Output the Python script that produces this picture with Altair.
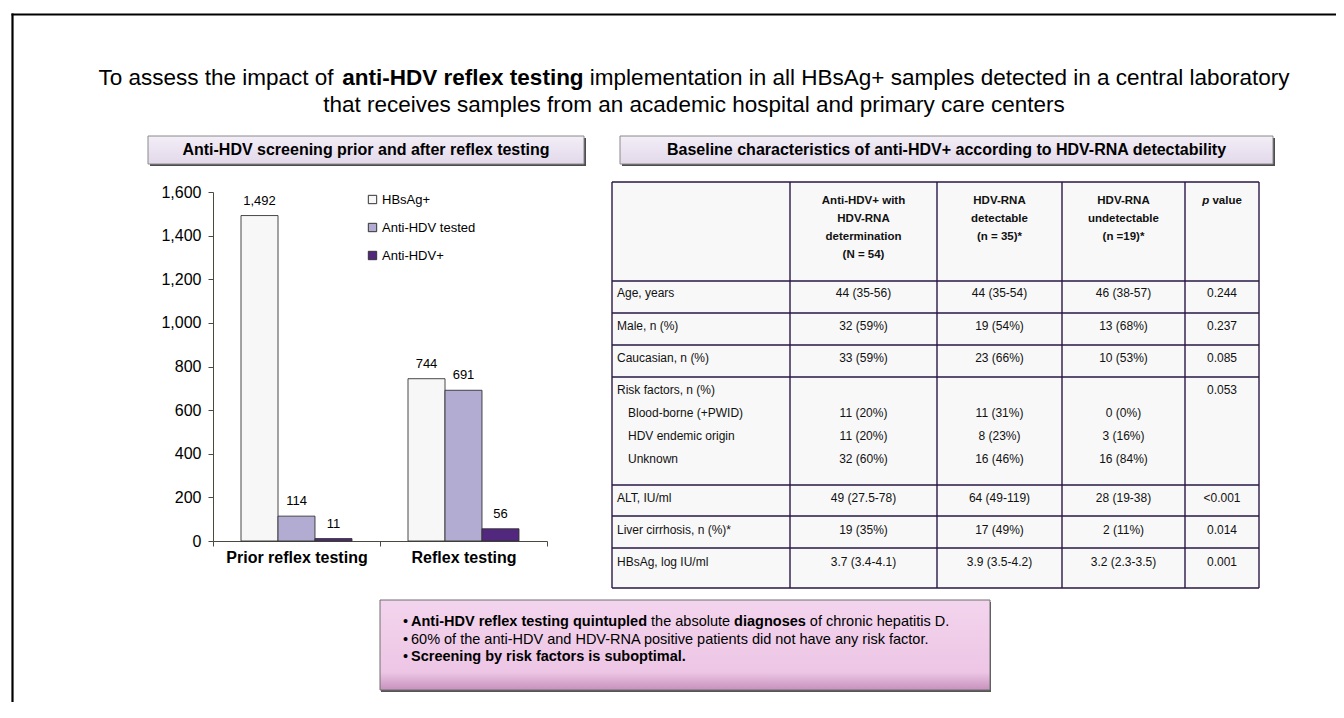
import altair as alt
import pandas as pd

FONT = "Liberation Sans, Arial, Helvetica, sans-serif"

# ---------------- data ----------------
CATEGORIES = ["Prior reflex testing", "Reflex testing"]
SERIES = ["HBsAg+", "Anti-HDV tested", "Anti-HDV+"]
PRIOR_VALUES = [1492, 114, 11]
REFLEX_VALUES = [744, 691, 56]
Y_TICKS = [0, 200, 400, 600, 800, 1000, 1200, 1400, 1600]

TITLE_LINE1 = ["To assess the impact of ", "anti-HDV reflex testing",
               " implementation in all HBsAg+ samples detected in a central laboratory"]
TITLE_LINE1_BOLD = [False, True, False]
TITLE_LINE2 = "that receives samples from an academic hospital and primary care centers"
LEFT_HEADER = "Anti-HDV screening prior and after reflex testing"
RIGHT_HEADER = "Baseline characteristics of anti-HDV+ according to HDV-RNA detectability"

COL_HEADERS = [
    ["Anti-HDV+ with", "HDV-RNA", "determination", "(N = 54)"],
    ["HDV-RNA", "detectable", "(n = 35)*"],
    ["HDV-RNA", "undetectable", "(n =19)*"],
]
P_HEADER = ["p", " value"]
ROW_LABELS = ["Age, years", "Male, n (%)", "Caucasian, n (%)", "Risk factors, n (%)",
              "Blood-borne (+PWID)", "HDV endemic origin", "Unknown", "ALT, IU/ml",
              "Liver cirrhosis, n (%)*", "HBsAg, log IU/ml"]
ROW_INDENT = [False, False, False, False, True, True, True, False, False, False]
COL_ALL = ["44 (35-56)", "32 (59%)", "33 (59%)", "", "11 (20%)", "11 (20%)", "32 (60%)",
           "49 (27.5-78)", "19 (35%)", "3.7 (3.4-4.1)"]
COL_DET = ["44 (35-54)", "19 (54%)", "23 (66%)", "", "11 (31%)", "8 (23%)", "16 (46%)",
           "64 (49-119)", "17 (49%)", "3.9 (3.5-4.2)"]
COL_UNDET = ["46 (38-57)", "13 (68%)", "10 (53%)", "", "0 (0%)", "3 (16%)", "16 (84%)",
             "28 (19-38)", "2 (11%)", "3.2 (2.3-3.5)"]
COL_P = ["0.244", "0.237", "0.085", "0.053", "", "", "", "<0.001", "0.014", "0.001"]

CONCLUSIONS = [
    [("Anti-HDV reflex testing quintupled", True), (" the absolute ", False),
     ("diagnoses", True), (" of chronic hepatitis D.", False)],
    [("60% of the anti-HDV and HDV-RNA positive patients did not have any risk factor.", False)],
    [("Screening by risk factors is suboptimal.", True)],
]

# ---------------- layout (page pixels) ----------------
W, H = 1328, 694
M = 8


def px(v):
    return v - M


TITLE_CX = 694
TITLE_Y = [78, 105]
TITLE_SIZE = 22.5

HEADER_BOXES = [(148, 584, 136, 164), (620, 1273, 136, 164)]
HEADER_SIZE = 16

AXIS_X0, AXIS_X1 = 213, 547
AXIS_Y0, AXIS_Y1 = 541, 192
LEGEND_X, LEGEND_Y = 366, 193

TABLE_X = [612, 790, 937, 1062, 1185, 1259]
TABLE_H_LINES = [182, 281, 313, 345, 377, 485, 516, 548, 588]
HEAD_Y0, HEAD_DY = 201, 18
ROW_Y = [293, 326, 358, 390, 413, 436, 459, 498, 530, 562]
TABLE_SIZE = 12
TABLE_HEAD_SIZE = 11.5
LABEL_X, INDENT_X = 617, 628

BOX = (380, 990, 600, 690)
BOX_TEXT_Y = [622, 640, 657]
BULLET_X, BOX_TEXT_X = 403, 411
BOX_SIZE = 14.5

COLORS = ["#f7f7f7", "#b2acd3", "#52287f"]
AX = "#4a4a40"
LINE = "#2a1745"

# ---------------- text metrics (Arial / Liberation Sans) ----------------
REG = {' ': 278, '!': 278, '%': 889, "'": 191, '(': 333, ')': 333, '*': 389, '+': 584, ',': 278,
       '-': 333, '.': 278, '/': 278, ':': 278, ';': 278, '<': 584, '=': 584, '>': 584, '•': 350}
BOLD = {' ': 278, '!': 333, '%': 889, '(': 333, ')': 333, '*': 389, '+': 584, ',': 278,
        '-': 333, '.': 278, '<': 584, '=': 584, '•': 350}
for d in "0123456789":
    REG[d] = 556
    BOLD[d] = 556
for c, w in zip("ABCDEFGHIJKLMNOPQRSTUVWXYZ",
                [667, 667, 722, 722, 667, 611, 778, 722, 278, 500, 667, 556, 833, 722, 778, 667, 778,
                 722, 667, 611, 722, 667, 944, 667, 667, 611]):
    REG[c] = w
for c, w in zip("abcdefghijklmnopqrstuvwxyz",
                [556, 556, 500, 556, 556, 278, 556, 556, 222, 222, 500, 222, 833, 556, 556, 556, 556,
                 333, 500, 278, 556, 500, 722, 500, 500, 500]):
    REG[c] = w
for c, w in zip("ABCDEFGHIJKLMNOPQRSTUVWXYZ",
                [722, 722, 722, 722, 667, 611, 778, 722, 278, 556, 722, 611, 833, 722, 778, 667, 778,
                 722, 667, 611, 722, 667, 944, 667, 667, 611]):
    BOLD[c] = w
for c, w in zip("abcdefghijklmnopqrstuvwxyz",
                [556, 611, 556, 611, 556, 333, 611, 611, 278, 278, 556, 278, 889, 611, 611, 611, 611,
                 389, 556, 333, 611, 556, 778, 556, 556, 500]):
    BOLD[c] = w


def tw(s, size, bold=False):
    t = BOLD if bold else REG
    return sum(t.get(c, 556) for c in s) * size / 1000.0


texts = []


def add(x, y, s, size, bold=False, italic=False, align="left", color="#000000"):
    if s.strip() == "":
        return
    texts.append(dict(x=px(x), y=px(y), text=s, size=size,
                      weight="bold" if bold else "normal",
                      style="italic" if italic else "normal", align=align, color=color))


def add_runs(x0, y, runs, size, color="#000000"):
    x = x0
    for run in runs:
        s, b = run[0], run[1]
        it = run[2] if len(run) > 2 else False
        lead = len(s) - len(s.lstrip())
        add(x + tw(s[:lead], size, b), y, s.strip(), size, b, it, "left", color)
        x += tw(s, size, b)


def add_centered_runs(cx, y, runs, size, color="#000000"):
    total = sum(tw(r[0], size, r[1]) for r in runs)
    add_runs(cx - total / 2.0, y, runs, size, color)


# title
add_centered_runs(TITLE_CX, TITLE_Y[0], list(zip(TITLE_LINE1, TITLE_LINE1_BOLD)), TITLE_SIZE)
add(TITLE_CX, TITLE_Y[1], TITLE_LINE2, TITLE_SIZE, align="center")

# header boxes text
for (x0, x1, y0, y1), s in zip(HEADER_BOXES, [LEFT_HEADER, RIGHT_HEADER]):
    add((x0 + x1) / 2.0, (y0 + y1) / 2.0, s, HEADER_SIZE, bold=True, align="center")

# table header
centers = [(TABLE_X[i] + TABLE_X[i + 1]) / 2.0 for i in range(5)]
for i, lines in enumerate(COL_HEADERS):
    for k, s in enumerate(lines):
        add(centers[i + 1], HEAD_Y0 + k * HEAD_DY, s, TABLE_HEAD_SIZE, bold=True, align="center",
            color="#111111")
add_centered_runs(centers[4], HEAD_Y0, [(P_HEADER[0], True, True), (P_HEADER[1], True)],
                  TABLE_HEAD_SIZE, color="#111111")

# table body
for r, lab in enumerate(ROW_LABELS):
    add(INDENT_X if ROW_INDENT[r] else LABEL_X, ROW_Y[r], lab, TABLE_SIZE, color="#111111")
    for c, col in enumerate([COL_ALL, COL_DET, COL_UNDET, COL_P]):
        add(centers[c + 1], ROW_Y[r], col[r], TABLE_SIZE, align="center", color="#111111")

# conclusions
for y, runs in zip(BOX_TEXT_Y, CONCLUSIONS):
    add(BULLET_X, y, "•", BOX_SIZE)
    add_runs(BOX_TEXT_X, y, runs, BOX_SIZE)

tdf = pd.DataFrame(texts)

# ---------------- decoration layers ----------------
NOX = dict(scale=None, axis=None)


def rect_layer(rows, **mark):
    df = pd.DataFrame(rows, columns=["x", "x2", "y", "y2"])
    return alt.Chart(df).mark_rect(**mark).encode(
        x=alt.X("x:Q", **NOX), x2=alt.X2("x2"), y=alt.Y("y:Q", **NOX), y2=alt.Y2("y2"))


def hrule_layer(rows, **mark):
    df = pd.DataFrame(rows, columns=["x", "x2", "y"])
    return alt.Chart(df).mark_rule(**mark).encode(
        x=alt.X("x:Q", **NOX), x2=alt.X2("x2"), y=alt.Y("y:Q", **NOX))


def vrule_layer(rows, **mark):
    df = pd.DataFrame(rows, columns=["x", "y", "y2"])
    return alt.Chart(df).mark_rule(**mark).encode(
        x=alt.X("x:Q", **NOX), y=alt.Y("y:Q", **NOX), y2=alt.Y2("y2"))


layers = []
# page border (top and left)
layers.append(hrule_layer([(px(11.5), W, px(14.5))], color="#000000", strokeWidth=2.2))
layers.append(vrule_layer([(px(12.5), px(13.5), H)], color="#000000", strokeWidth=2.2))

# header boxes
hdr_grad = alt.Gradient(gradient="linear",
                        stops=[alt.GradientStop(offset=0, color="#f3eef7"),
                               alt.GradientStop(offset=1, color="#e2d8ea")],
                        x1=0, x2=0, y1=0, y2=1)
layers.append(rect_layer([(px(a) + 2, px(b) + 2, px(c) + 2, px(d) + 2) for a, b, c, d in HEADER_BOXES],
                         fill="#4d4d4d"))
layers.append(rect_layer([(px(a), px(b), px(c), px(d)) for a, b, c, d in HEADER_BOXES],
                         fill=hdr_grad, stroke="#8a8a8a", strokeWidth=1))

# table
layers.append(rect_layer([(px(TABLE_X[0]), px(TABLE_X[-1]), px(TABLE_H_LINES[0]), px(TABLE_H_LINES[-1]))],
                         fill="#f8f8f8"))
layers.append(hrule_layer([(px(TABLE_X[0]), px(TABLE_X[-1]), px(y)) for y in TABLE_H_LINES],
                          color=LINE, strokeWidth=1.4))
layers.append(vrule_layer([(px(x), px(TABLE_H_LINES[0]), px(TABLE_H_LINES[-1])) for x in TABLE_X],
                          color=LINE, strokeWidth=1.4))

# conclusion box
box_grad = alt.Gradient(gradient="linear",
                        stops=[alt.GradientStop(offset=0, color="#f3d4ed"),
                               alt.GradientStop(offset=0.8, color="#edc6e5"),
                               alt.GradientStop(offset=1, color="#c791bd")],
                        x1=0, x2=0, y1=0, y2=1)
bx0, bx1, by0, by1 = BOX
layers.append(rect_layer([(px(bx0) + 1, px(bx1) + 1, px(by0) + 2, px(by1) + 2)], fill="#555555"))
layers.append(rect_layer([(px(bx0), px(bx1), px(by0), px(by1))], fill=box_grad,
                         stroke="#6e6e6e", strokeWidth=1))

# ---------------- bar chart ----------------
bar_df = pd.DataFrame({
    "category": [c for c in CATEGORIES for _ in SERIES],
    "series": SERIES * len(CATEGORIES),
    "value": PRIOR_VALUES + REFLEX_VALUES,
})

x_enc = alt.X("category:N", sort=CATEGORIES,
              scale=alt.Scale(range=[px(AXIS_X0), px(AXIS_X1)], paddingInner=0, paddingOuter=0),
              axis=alt.Axis(title=None, labelAngle=0, labelFontSize=16, labelFontWeight="bold",
                            labelFont=FONT, labelColor="#000000", tickBand="extent", tickSize=5,
                            tickColor=AX, domainColor=AX, labelPadding=3,
                            offset=px(AXIS_Y0) - H))
xo_enc = alt.XOffset("series:N", sort=SERIES,
                     scale=alt.Scale(paddingInner=0, paddingOuter=0.757))
y_enc = alt.Y("value:Q",
              scale=alt.Scale(domain=[0, 1600], range=[px(AXIS_Y0), px(AXIS_Y1)], nice=False),
              axis=alt.Axis(values=Y_TICKS, labelExpr="format(datum.value, ',')", title=None,
                            grid=False, labelFontSize=16,
                            labelFont=FONT, labelColor="#000000", tickSize=5, labelPadding=7,
                            tickColor=AX, domainColor=AX, offset=-px(AXIS_X0)))
color_enc = alt.Color("series:N", sort=SERIES,
                      scale=alt.Scale(domain=SERIES, range=COLORS),
                      legend=alt.Legend(orient="none", legendX=px(LEGEND_X), legendY=px(LEGEND_Y),
                                        title=None, symbolType="square", symbolSize=70,
                                        symbolStrokeColor="#333333", symbolStrokeWidth=1,
                                        labelFontSize=13, labelFont=FONT, labelColor="#000000",
                                        rowPadding=14, labelOffset=3, padding=0))

bars = alt.Chart(bar_df).mark_bar(stroke="#333333", strokeWidth=0.9).encode(
    x=x_enc, xOffset=xo_enc, y=y_enc, color=color_enc)
bar_labels = alt.Chart(bar_df).mark_text(dy=-15, fontSize=13, font=FONT, color="#000000",
                                         baseline="middle").encode(
    x=x_enc, xOffset=xo_enc, y=y_enc, text=alt.Text("value:Q", format=","))
bar_chart = alt.layer(bars, bar_labels)
layers.append(bar_chart)

# ---------------- text layers ----------------
for (w, st, al), g in tdf.groupby(["weight", "style", "align"]):
    layers.append(
        alt.Chart(g).mark_text(font=FONT, fontWeight=w, fontStyle=st, align=al,
                               baseline="middle").encode(
            x=alt.X("x:Q", **NOX), y=alt.Y("y:Q", **NOX), text=alt.Text("text:N"),
            size=alt.Size("size:Q", scale=None, legend=None),
            color=alt.Color("color:N", scale=None, legend=None)))

chart = alt.layer(*layers).resolve_scale(
    x="independent", y="independent", color="independent", size="independent"
).properties(
    width=W, height=H, padding=0, background="#ffffff",
    autosize=alt.AutoSizeParams(type="none")
).configure_view(stroke=None)

chart.save("out.html", embed_options={"renderer": "svg", "actions": False})
